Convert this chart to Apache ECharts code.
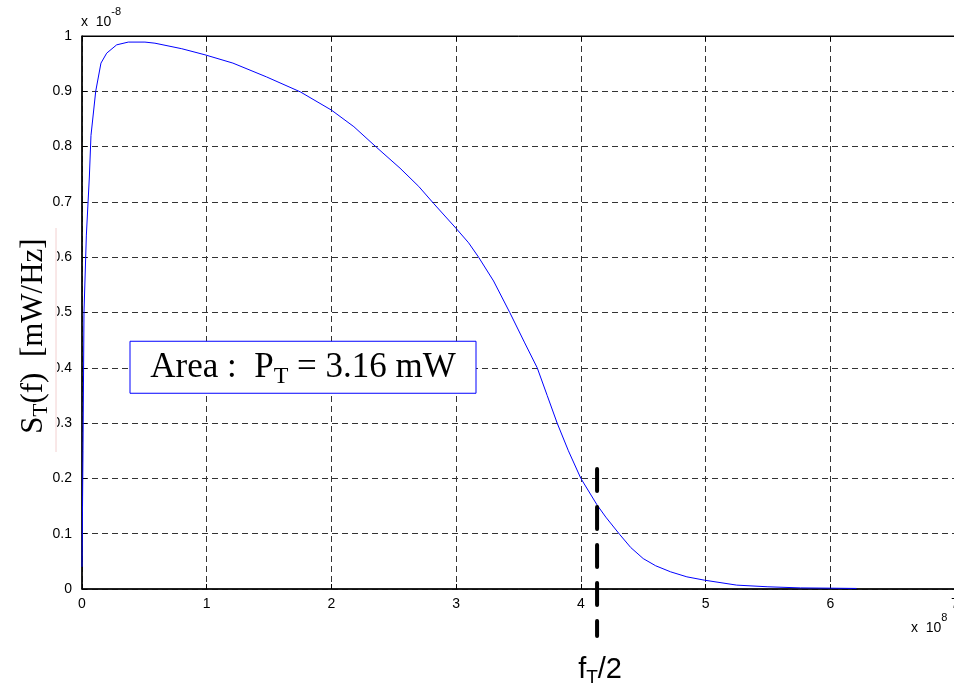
<!DOCTYPE html>
<html>
<head>
<meta charset="utf-8">
<script src="https://cdn.jsdelivr.net/npm/echarts@6/dist/echarts.min.js"></script>
<style>
  html, body { margin: 0; padding: 0; background: #fff; }
  #chart { width: 954px; height: 687px; }
</style>
</head>
<body>
<div id="chart"></div>
<script>
// frequency in units of 1e8 Hz, PSD in units of 1e-8 mW/Hz
const freq = [0, 0.008, 0.016, 0.035, 0.059, 0.072, 0.11, 0.152, 0.198, 0.278, 0.371, 0.505, 0.585, 0.8, 0.986,
    1.21, 1.48, 1.75, 2.0, 2.18, 2.36, 2.55, 2.7, 2.82, 3.0, 3.1, 3.18, 3.3, 3.43, 3.55, 3.65, 3.73, 3.81, 3.9,
    4.0, 4.13, 4.2, 4.31, 4.4, 4.5, 4.6, 4.72, 4.85, 4.99, 5.25, 5.5, 5.76, 6.0, 6.21];
const psd = [0.04, 0.25, 0.5, 0.64, 0.745, 0.82, 0.9, 0.951, 0.969, 0.984, 0.989, 0.989, 0.987, 0.977, 0.966,
    0.951, 0.926, 0.899, 0.866, 0.836, 0.799, 0.761, 0.728, 0.697, 0.652, 0.626, 0.6, 0.557, 0.5, 0.445, 0.4, 0.35, 0.3, 0.25,
    0.2, 0.152, 0.13, 0.099, 0.075, 0.055, 0.042, 0.031, 0.022, 0.016, 0.007, 0.004, 0.002, 0.0015, 0.001];
const xTicks = [0, 1, 2, 3, 4, 5, 6, 7];
const yTicks = [0, 0.1, 0.2, 0.3, 0.4, 0.5, 0.6, 0.7, 0.8, 0.9, 1];
const halfBandwidth = 4.13;   // f_T/2 marker
const boxAnchor = [0.385, 0.448]; // top-left of the "Area" annotation, in data units

const chart = echarts.init(document.getElementById('chart'));

let points = [];
for (let i = 0; i < freq.length; i++) {
    points.push([freq[i], psd[i]]);
}

const labelFont = { color: '#000', fontSize: 14, fontFamily: 'Liberation Sans, Arial, sans-serif' };
const gridDash = { show: true, lineStyle: { color: '#333', type: [6, 4], width: 1 } };

chart.setOption({
    animation: false,
    grid: {
        left: 82, right: -1, top: 36, bottom: 98,
        outerBoundsMode: 'none', containLabel: false,
        show: true, borderColor: '#000', borderWidth: 1
    },
    xAxis: [{
        type: 'value', min: xTicks[0], max: xTicks[xTicks.length - 1], interval: 1,
        axisLine: { lineStyle: { color: '#000', width: 1.5 } },
        axisTick: { inside: true, length: 5, lineStyle: { color: '#000' } },
        axisLabel: Object.assign({ margin: 8, hideOverlap: false }, labelFont),
        splitLine: gridDash
    }, {
        type: 'value', position: 'top', min: 0, max: 7, interval: 1,
        axisLine: { lineStyle: { color: '#000', width: 1 } },
        axisTick: { inside: true, length: 5, lineStyle: { color: '#000' } },
        axisLabel: { show: false }, splitLine: { show: false }
    }],
    yAxis: {
        type: 'value', min: yTicks[0], max: yTicks[yTicks.length - 1], interval: 0.1,
        axisLine: { show: true, lineStyle: { color: '#000', width: 1.5 } },
        axisTick: { show: true, inside: true, length: 5, lineStyle: { color: '#000' } },
        axisLabel: Object.assign({ margin: 10, formatter: v => String(Math.round(v * 10) / 10) }, labelFont),
        splitLine: gridDash
    },
    series: [{
        type: 'line',
        data: points,
        showSymbol: false,
        lineStyle: { color: '#0000ff', width: 1 },
        itemStyle: { color: '#0000ff' }
    }]
});

// annotations placed through the chart's own coordinate conversion
const fx = chart.convertToPixel({ gridIndex: 0 }, [halfBandwidth, 0])[0];
const box = chart.convertToPixel({ gridIndex: 0 }, boxAnchor);

const sans = 'Liberation Sans, Arial, sans-serif';
const serif = 'Liberation Serif, Times New Roman, serif';

chart.setOption({
    graphic: [
        // multipliers
        {
            type: 'text', left: 81, top: 6, z: 100,
            style: {
                text: '{b|x  10}{s|-8}',
                rich: {
                    b: { fontSize: 14, fontFamily: sans, fill: '#000', padding: [9, 0, 0, 0] },
                    s: { fontSize: 11, fontFamily: sans, fill: '#000', verticalAlign: 'top' }
                }
            }
        },
        {
            type: 'text', left: 911, top: 612, z: 100,
            style: {
                text: '{b|x  10}{s|8}',
                rich: {
                    b: { fontSize: 14, fontFamily: sans, fill: '#000', padding: [9, 0, 0, 0] },
                    s: { fontSize: 11, fontFamily: sans, fill: '#000', verticalAlign: 'top' }
                }
            }
        },
        // y axis name covering part of the tick labels
        { type: 'rect', z: 100, shape: { x: 10, y: 228, width: 47, height: 224 }, style: { fill: '#fff' } },
        { type: 'line', z: 100, shape: { x1: 56, y1: 228, x2: 56, y2: 452 }, style: { stroke: '#f2d0d0', lineWidth: 1 } },
        {
            type: 'text', z: 101, x: 34, y: 336, rotation: Math.PI / 2,
            style: {
                text: '{n|S}{t|T}{n|(f)  [mW/Hz]}',
                align: 'center', verticalAlign: 'middle',
                rich: {
                    n: { fontSize: 31, fontFamily: serif, fill: '#000' },
                    t: { fontSize: 21, fontFamily: serif, fill: '#000', padding: [14, 0, 0, 0] }
                }
            }
        },
        // area box
        {
            type: 'rect', z: 100,
            shape: { x: box[0], y: box[1], width: 346, height: 52 },
            style: { fill: '#fff', stroke: '#0000ff', lineWidth: 1 }
        },
        {
            type: 'text', z: 101, x: box[0] + 173, y: box[1] + 27,
            style: {
                text: '{n|Area :  P}{t|T}{n| = 3.16 mW}',
                align: 'center', verticalAlign: 'middle',
                rich: {
                    n: { fontSize: 35, fontFamily: serif, fill: '#000' },
                    t: { fontSize: 24, fontFamily: serif, fill: '#000', padding: [16, 0, 0, 0] }
                }
            }
        },
        // f_T/2 marker
        {
            type: 'line', z: 100,
            shape: { x1: fx, y1: 469, x2: fx, y2: 636 },
            style: { stroke: '#000', lineWidth: 4, lineDash: [22, 16], lineCap: 'round' }
        },
        {
            type: 'text', z: 101, x: fx + 3, y: 670,
            style: {
                text: '{n|f}{t|T}{n|/2}',
                align: 'center', verticalAlign: 'middle',
                rich: {
                    n: { fontSize: 29, fontFamily: sans, fill: '#000' },
                    t: { fontSize: 19, fontFamily: sans, fill: '#000', padding: [15, 0, 0, 0] }
                }
            }
        }
    ]
});

window.addEventListener('resize', function () {
    chart.resize();
});
</script>
</body>
</html>
